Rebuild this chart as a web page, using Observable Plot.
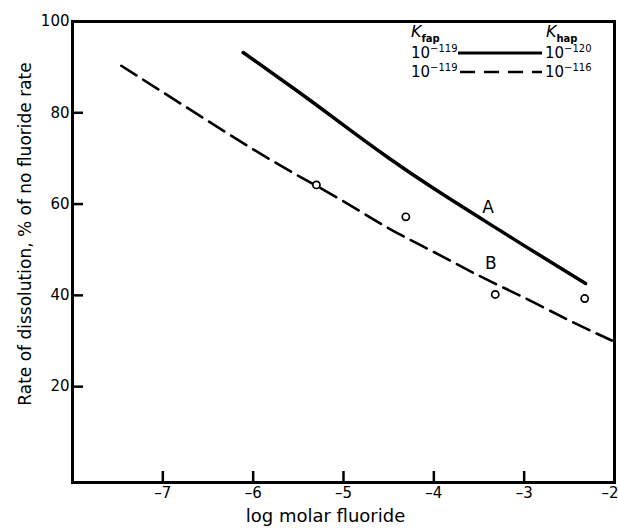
<!DOCTYPE html>
<html>
<head>
<meta charset="utf-8">
<script src="https://cdn.jsdelivr.net/npm/d3@7"></script>
<script src="https://cdn.jsdelivr.net/npm/@observablehq/plot@0.6"></script>
<style>
  html, body { margin: 0; padding: 0; background: #fff; }
  #chart { position: relative; width: 618px; height: 528px; font-family: "DejaVu Sans", sans-serif; }
  #chart svg { display: block; }
</style>
</head>
<body>
<div id="chart"></div>
<script>
// Curve A (solid): Kfap 10^-119, Khap 10^-120
const curveAx = [-6.11, -5.5, -5.0, -4.5, -4.0, -3.5, -3.0, -2.5, -2.32];
const curveAy = [93.2, 84.6, 77.3, 70.1, 63.4, 57.1, 50.9, 44.8, 42.6];
// Curve B (dashed): Kfap 10^-119, Khap 10^-116
const curveBx = [-7.46, -7.0, -6.5, -6.0, -5.5, -5.0, -4.5, -4.0, -3.5, -3.0, -2.5, -2.03];
const curveBy = [90.3, 84.5, 78.2, 72.0, 66.2, 60.6, 54.7, 49.5, 44.3, 39.5, 34.5, 30.1];
// Experimental points (open circles)
const obsX = [-5.30, -4.31, -3.32, -2.33];
const obsY = [64.2, 57.2, 40.2, 39.3];
// Curve labels
const labelText = ["A", "B"];
const labelX = [-3.40, -3.37];
const labelY = [59.2, 46.9];
// Ticks
const xTicks = [-7, -6, -5, -4, -3, -2];
const yTicks = [20, 40, 60, 80, 100];

const lineA = curveAx.map((x, i) => ({x, y: curveAy[i]}));
const lineB = curveBx.map((x, i) => ({x, y: curveBy[i]}));
const obs = obsX.map((x, i) => ({x, y: obsY[i]}));
const labels = labelText.map((t, i) => ({t, x: labelX[i], y: labelY[i]}));

const W = 618, H = 528, ML = 72, MR = 4, MT = 21, MB = 46, TICK = 11;
const font = "DejaVu Sans, sans-serif";
const fmt = d => "–" + Math.abs(d);
const lastX = xTicks[xTicks.length - 1];

const plot = Plot.plot({
  width: W,
  height: H,
  marginLeft: ML,
  marginRight: MR,
  marginTop: MT,
  marginBottom: MB,
  style: {fontFamily: font, color: "#000", background: "#fff"},
  x: {domain: [-8, -2]},
  y: {domain: [-1, 100]},
  marks: [
    Plot.frame({stroke: "#000", strokeWidth: 3}),
    // tick labels
    Plot.axisX({ticks: xTicks.filter(d => d !== lastX), tickSize: 0, tickPadding: 5, fontSize: 15, label: null,
      tickFormat: fmt}),
    Plot.text([lastX], {x: d => d, frameAnchor: "bottom", text: fmt, textAnchor: "end", dx: 4, dy: 5,
      lineAnchor: "top", fontSize: 15, fill: "#000"}),
    Plot.axisY({ticks: yTicks, tickSize: 0, tickPadding: 3, fontSize: 15, label: null}),
    // inward ticks
    Plot.ruleX(xTicks, {x: d => d, insetTop: (H - MT - MB) - TICK, stroke: "#000", strokeWidth: 2.5}),
    Plot.ruleY(yTicks, {y: d => d, insetRight: (W - ML - MR) - TICK, stroke: "#000", strokeWidth: 2.5}),
    Plot.line(lineA, {x: "x", y: "y", curve: "natural", stroke: "#000", strokeWidth: 3.5}),
    Plot.line(lineB, {x: "x", y: "y", curve: "natural", stroke: "#000", strokeWidth: 2.6, strokeDasharray: "18,8"}),
    Plot.dot(obs, {x: "x", y: "y", r: 3.6, stroke: "#000", strokeWidth: 1.7, fill: "#fff"}),
    Plot.text(labels, {x: "x", y: "y", text: "t", fontSize: 17, fill: "#000"}),
    Plot.text(["log molar fluoride"], {frameAnchor: "bottom", dx: -18, dy: 34, fontSize: 18, lineAnchor: "middle", fill: "#000"}),
    Plot.text(["Rate of dissolution, % of no fluoride rate"], {frameAnchor: "left", textAnchor: "middle", lineAnchor: "middle",
      dx: -47, dy: -18, rotate: -90, fontSize: 17, fill: "#000"})
  ]
});

const chart = document.getElementById("chart");
chart.appendChild(plot);

// Legend overlay (top right, inside the frame)
const leg = d3.select(chart).append("svg")
  .attr("width", W).attr("height", H)
  .style("position", "absolute").style("left", "0px").style("top", "0px")
  .style("pointer-events", "none")
  .attr("font-family", font);

function kLabel(x, sub) {
  const t = leg.append("text").attr("x", x).attr("y", 37).attr("font-size", 16).attr("fill", "#000");
  t.append("tspan").attr("font-style", "italic").text("K");
  t.append("tspan").attr("font-size", 10).attr("font-weight", "bold").attr("dy", 5).text(sub);
}
function powLabel(x, y, exp) {
  const t = leg.append("text").attr("x", x).attr("y", y).attr("font-size", 15).attr("fill", "#000");
  t.append("tspan").text("10");
  t.append("tspan").attr("font-size", 10).attr("dy", -6).text("−" + exp);
}
kLabel(411, "fap");
kLabel(546, "hap");
powLabel(411, 58, 119);
powLabel(545, 58, 120);
powLabel(411, 77, 119);
powLabel(545, 77, 116);
leg.append("line").attr("x1", 458).attr("x2", 542).attr("y1", 53).attr("y2", 53)
  .attr("stroke", "#000").attr("stroke-width", 3);
leg.append("line").attr("x1", 460).attr("x2", 542).attr("y1", 72).attr("y2", 72)
  .attr("stroke", "#000").attr("stroke-width", 2.4).attr("stroke-dasharray", "15,9");
</script>
</body>
</html>
